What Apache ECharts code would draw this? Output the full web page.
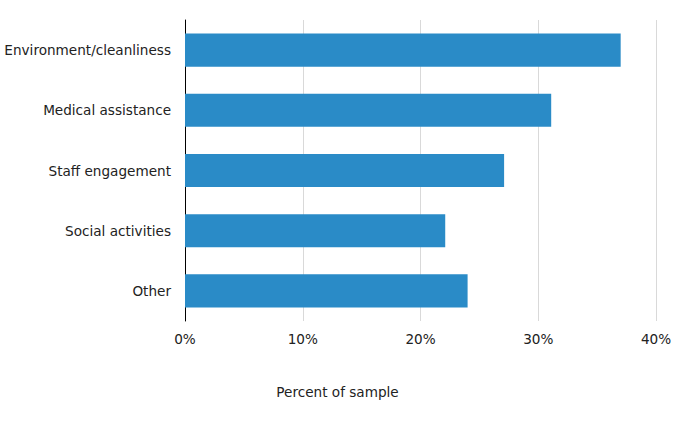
<!DOCTYPE html>
<html><head><meta charset="utf-8">
<script src="https://cdn.jsdelivr.net/npm/echarts@6/dist/echarts.min.js"></script>
<style>html,body{margin:0;padding:0;background:#fff}#c{width:675px;height:421px}</style>
</head><body><div id="c"></div>
<script>
const categories = ["Environment/cleanliness", "Medical assistance", "Staff engagement", "Social activities", "Other"];
const values = [37, 31.1, 27.1, 22.1, 24];
const xTicks = [0, 10, 20, 30, 40];
const xTitle = "Percent of sample";

const chart = echarts.init(document.getElementById('c'), null, {renderer: 'svg'});
chart.setOption({
  animation: false,
  textStyle: {fontFamily: 'DejaVu Sans'},
  grid: {left: 185, right: 19, top: 20, bottom: 100, containLabel: false},
  xAxis: {
    type: 'value', min: xTicks[0], max: xTicks[xTicks.length - 1], interval: 10,
    axisLine: {show: false}, axisTick: {show: false},
    splitLine: {lineStyle: {color: '#d9d9d9', width: 1}},
    axisLabel: {formatter: '{value}%', color: '#222', fontSize: 13.6, margin: 11, fontFamily: 'DejaVu Sans'}
  },
  yAxis: {
    type: 'category', data: categories, inverse: true,
    axisLine: {show: true, lineStyle: {color: '#000', width: 1}},
    axisTick: {show: false},
    axisLabel: {color: '#222', fontSize: 13.6, margin: 14, fontFamily: 'DejaVu Sans'}
  },
  series: [{
    type: 'bar', data: values, barCategoryGap: '45%',
    itemStyle: {color: '#2a8bc7'}
  }],
  graphic: [{
    type: 'text', left: 'center', top: 385,
    style: {text: xTitle, fill: '#222', fontSize: 13.6, fontFamily: 'DejaVu Sans'}
  }]
});
</script></body></html>
